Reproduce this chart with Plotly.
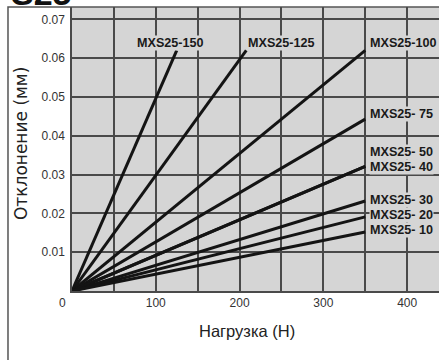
import plotly.graph_objects as go

# Data: each line goes from origin to its end point
series_names = ["MXS25-150", "MXS25-125", "MXS25-100", "MXS25- 75", "MXS25- 50",
                "MXS25- 40", "MXS25- 30", "MXS25- 20", "MXS25- 10"]
end_load = [125, 208, 350, 350, 350, 350, 350, 350, 350]          # Н
end_deflection = [0.062, 0.062, 0.062, 0.0443, 0.0321, 0.0321, 0.0232, 0.0191, 0.0152]  # мм

x_tick_vals = [0, 50, 100, 150, 200, 250, 300, 350, 400]
x_tick_text = ["", "", "100", "", "200", "", "300", "", "400"]
y_tick_vals = [0, 0.01, 0.02, 0.03, 0.04, 0.05, 0.06, 0.07]
y_tick_text = ["", "0.01", "0.02", "0.03", "0.04", "0.05", "0.06", "0.07"]

# label offsets (px) relative to line end: (xanchor, xshift, yshift)
label_style = [("center", -6, 7), ("left", 1, 7), ("left", 4, 7), ("left", 4, 5),
               ("left", 4, 14), ("left", 4, -1), ("left", 4, 1), ("left", 4, 2), ("left", 4, 2)]

BG = "#d5d5d5"
GRID = "#4a4a4a"

fig = go.Figure()
for name, xe, ye in zip(series_names, end_load, end_deflection):
    fig.add_trace(go.Scatter(x=[0, xe], y=[0, ye], mode="lines", name=name,
                             line=dict(color="#141414", width=3), showlegend=False,
                             hoverinfo="skip"))

annotations = []
for name, xe, ye, (xa, xs, ys) in zip(series_names, end_load, end_deflection, label_style):
    annotations.append(dict(x=xe, y=ye, xref="x", yref="y", text="<b>%s</b>" % name,
                            showarrow=False, xanchor=xa, yanchor="middle", xshift=xs, yshift=ys,
                            bgcolor=BG, borderpad=0,
                            font=dict(family="Liberation Sans, Arial, sans-serif", size=12.6,
                                      color="#1a1a1a")))

annotations += [
    dict(text="Отклонение (мм)", textangle=-90, x=-0.139, y=0.521, xref="paper", yref="paper",
         showarrow=False, xanchor="center", yanchor="middle",
         font=dict(family="DejaVu Sans, sans-serif", size=17, color="#222222")),
    dict(text="Нагрузка (Н)", x=0.477, y=-0.141, xref="paper", yref="paper",
         showarrow=False, xanchor="center", yanchor="middle",
         font=dict(family="Liberation Sans, Arial, sans-serif", size=16.5, color="#222222")),
    dict(text="0", x=-0.027, y=-0.042, xref="paper", yref="paper",
         showarrow=False, xanchor="center", yanchor="middle",
         font=dict(family="Liberation Sans, Arial, sans-serif", size=12, color="#333333")),
    dict(text="<b>S25</b>", x=-0.082, y=1, yshift=-6, xref="paper", yref="paper",
         showarrow=False, xanchor="center", yanchor="bottom", borderpad=0,
         font=dict(family="Liberation Sans, Arial, sans-serif", size=34, color="#111111")),
]

fig.update_layout(
    width=439, height=360,
    margin=dict(l=72, r=0, t=7, b=69),
    paper_bgcolor="white", plot_bgcolor=BG,
    annotations=annotations,
    shapes=[dict(type="rect", xref="paper", yref="paper", x0=-0.1744, x1=1.2, y0=-0.4, y1=1,
                 line=dict(color="#555555", width=1.5), layer="below")],
)
fig.update_xaxes(range=[0, 438], tickvals=x_tick_vals, ticktext=x_tick_text,
                 showgrid=True, gridcolor=GRID, gridwidth=1.5, zeroline=False,
                 showline=True, linecolor=GRID, linewidth=1.5,
                 ticks="", tickfont=dict(family="Liberation Sans, Arial, sans-serif", size=12, color="#333333"))
fig.update_yaxes(range=[0, 0.0732], tickvals=y_tick_vals, ticktext=y_tick_text,
                 showgrid=True, gridcolor=GRID, gridwidth=1.5, zeroline=False,
                 showline=True, linecolor=GRID, linewidth=1.5,
                 ticks="outside", ticklen=3, tickcolor="rgba(0,0,0,0)",
                 tickfont=dict(family="Liberation Sans, Arial, sans-serif", size=12, color="#333333"))

fig.write_html("out.html", config={"displayModeBar": False},
               post_script="document.body.style.margin='0';document.body.style.overflow='hidden';")
